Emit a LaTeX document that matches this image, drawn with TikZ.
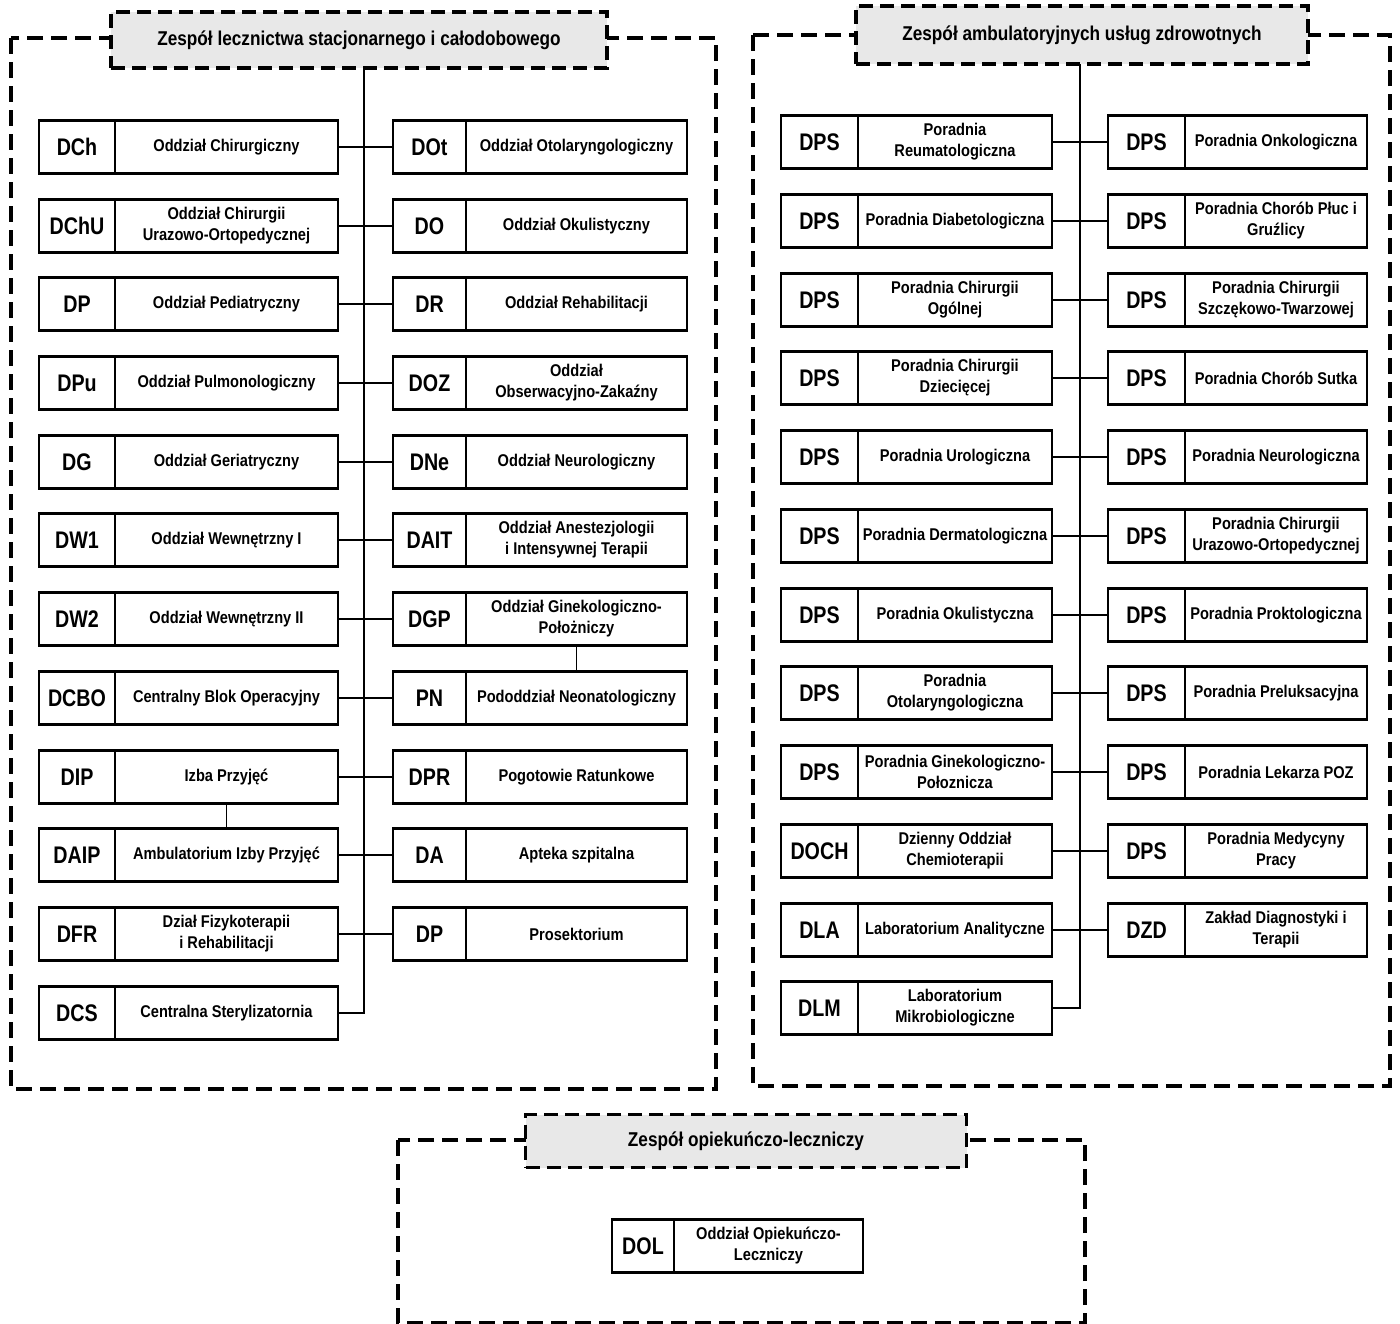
\documentclass[tikz,border=0pt]{standalone}
\usepackage{fontspec}
\setmainfont{Liberation Sans}[FakeStretch=0.86]
\newfontfamily\codefont{Liberation Sans}[FakeStretch=0.82]
\newcommand\deptbox[7]{%
  \node[codebox, minimum width=#4pt] (c#1) at (#2,#3) {#6};
  \node[namebox, minimum width=#5pt] (n#1) at (c#1.east) {#7};}
\begin{document}
\begin{tikzpicture}[x=1pt,y=-1pt,
  codebox/.style={draw, line width=2.2pt, anchor=west, minimum height=53pt, inner sep=0pt, outer sep=0pt,
    font=\codefont\bfseries\fontsize{24}{26}\selectfont},
  namebox/.style={draw, line width=2.2pt, anchor=west, minimum height=53pt, inner sep=0pt, outer sep=0pt,
    align=center, font=\bfseries\fontsize{17}{21}\selectfont},
  group/.style={draw, line width=3.2pt, dash pattern=on 16pt off 8pt},
  titlebox/.style={draw, line width=3.6pt, dash pattern=on 14pt off 7pt, fill=gray!18,
    inner sep=0pt, outer sep=0pt, font=\bfseries\fontsize{20}{22}\selectfont},
  link/.style={line width=1.8pt}
]
\fill[white] (0,0) rectangle (1400,1323);
\useasboundingbox (0,0) rectangle (1400,1323);

% group frames
\draw[group] (11,38) rectangle (716,1089);
\draw[group] (753,35) rectangle (1390,1086);
\draw[group] (398,1140) rectangle (1085,1323);

% titles
\node[titlebox, minimum width=496pt, minimum height=56pt] (t1) at (359,40) {Zespół lecznictwa stacjonarnego i całodobowego};
\node[titlebox, minimum width=452pt, minimum height=58pt] (t2) at (1082,35) {Zespół ambulatoryjnych usług zdrowotnych};
\node[titlebox, minimum width=441pt, minimum height=53pt] (t3) at (746,1141) {Zespół opiekuńczo-leczniczy};

% left group, left column
\deptbox{L1}{39}{147}{76}{223}{DCh}{Oddział Chirurgiczny}
\deptbox{L2}{39}{226}{76}{223}{DChU}{Oddział Chirurgii\\Urazowo-Ortopedycznej}
\deptbox{L3}{39}{304}{76}{223}{DP}{Oddział Pediatryczny}
\deptbox{L4}{39}{383}{76}{223}{DPu}{Oddział Pulmonologiczny}
\deptbox{L5}{39}{462}{76}{223}{DG}{Oddział Geriatryczny}
\deptbox{L6}{39}{540}{76}{223}{DW1}{Oddział Wewnętrzny I}
\deptbox{L7}{39}{619}{76}{223}{DW2}{Oddział Wewnętrzny II}
\deptbox{L8}{39}{698}{76}{223}{DCBO}{Centralny Blok Operacyjny}
\deptbox{L9}{39}{777}{76}{223}{DIP}{Izba Przyjęć}
\deptbox{L10}{39}{855}{76}{223}{DAIP}{Ambulatorium Izby Przyjęć}
\deptbox{L11}{39}{934}{76}{223}{DFR}{Dział Fizykoterapii\\i Rehabilitacji}
\deptbox{L12}{39}{1013}{76}{223}{DCS}{Centralna Sterylizatornia}

% left group, right column
\deptbox{R1}{393}{147}{73}{221}{DOt}{Oddział Otolaryngologiczny}
\deptbox{R2}{393}{226}{73}{221}{DO}{Oddział Okulistyczny}
\deptbox{R3}{393}{304}{73}{221}{DR}{Oddział Rehabilitacji}
\deptbox{R4}{393}{383}{73}{221}{DOZ}{Oddział\\Obserwacyjno-Zakaźny}
\deptbox{R5}{393}{462}{73}{221}{DNe}{Oddział Neurologiczny}
\deptbox{R6}{393}{540}{73}{221}{DAIT}{Oddział Anestezjologii\\i Intensywnej Terapii}
\deptbox{R7}{393}{619}{73}{221}{DGP}{Oddział Ginekologiczno-\\Położniczy}
\deptbox{R8}{393}{698}{73}{221}{PN}{Pododdział Neonatologiczny}
\deptbox{R9}{393}{777}{73}{221}{DPR}{Pogotowie Ratunkowe}
\deptbox{R10}{393}{855}{73}{221}{DA}{Apteka szpitalna}
\deptbox{R11}{393}{934}{73}{221}{DP}{Prosektorium}

% right group, left column
\deptbox{A1}{781}{142}{77}{194}{DPS}{Poradnia\\Reumatologiczna}
\deptbox{A2}{781}{221}{77}{194}{DPS}{Poradnia Diabetologiczna}
\deptbox{A3}{781}{300}{77}{194}{DPS}{Poradnia Chirurgii\\Ogólnej}
\deptbox{A4}{781}{378}{77}{194}{DPS}{Poradnia Chirurgii\\Dziecięcej}
\deptbox{A5}{781}{457}{77}{194}{DPS}{Poradnia Urologiczna}
\deptbox{A6}{781}{536}{77}{194}{DPS}{Poradnia Dermatologiczna}
\deptbox{A7}{781}{615}{77}{194}{DPS}{Poradnia Okulistyczna}
\deptbox{A8}{781}{693}{77}{194}{DPS}{Poradnia\\Otolaryngologiczna}
\deptbox{A9}{781}{772}{77}{194}{DPS}{Poradnia Ginekologiczno-\\Połoznicza}
\deptbox{A10}{781}{851}{77}{194}{DOCH}{Dzienny Oddział\\Chemioterapii}
\deptbox{A11}{781}{930}{77}{194}{DLA}{Laboratorium Analityczne}
\deptbox{A12}{781}{1008}{77}{194}{DLM}{Laboratorium\\Mikrobiologiczne}

% right group, right column
\deptbox{B1}{1108}{142}{77}{182}{DPS}{Poradnia Onkologiczna}
\deptbox{B2}{1108}{221}{77}{182}{DPS}{Poradnia Chorób Płuc i\\Gruźlicy}
\deptbox{B3}{1108}{300}{77}{182}{DPS}{Poradnia Chirurgii\\Szczękowo-Twarzowej}
\deptbox{B4}{1108}{378}{77}{182}{DPS}{Poradnia Chorób Sutka}
\deptbox{B5}{1108}{457}{77}{182}{DPS}{Poradnia Neurologiczna}
\deptbox{B6}{1108}{536}{77}{182}{DPS}{Poradnia Chirurgii\\Urazowo-Ortopedycznej}
\deptbox{B7}{1108}{615}{77}{182}{DPS}{Poradnia Proktologiczna}
\deptbox{B8}{1108}{693}{77}{182}{DPS}{Poradnia Preluksacyjna}
\deptbox{B9}{1108}{772}{77}{182}{DPS}{Poradnia Lekarza POZ}
\deptbox{B10}{1108}{851}{77}{182}{DPS}{Poradnia Medycyny\\Pracy}
\deptbox{B11}{1108}{930}{77}{182}{DZD}{Zakład Diagnostyki i\\Terapii}

% bottom group
\deptbox{O1}{612}{1246}{62}{189}{DOL}{Oddział Opiekuńczo-\\Leczniczy}

% trunks
\draw[link] ([xshift=5pt]t1.south) |- (nL12.east);
\draw[link] ([xshift=-2pt]t2.south) |- (nA12.east);

% row links
\foreach \i in {1,...,11} {
  \draw[link] (nL\i.east) -- (cR\i.west);
  \draw[link] (nA\i.east) -- (cB\i.west);
}
\draw[link] (nR7.south) -- (nR8.north);
\draw[link] (nL9.south) -- (nL10.north);
\end{tikzpicture}
\end{document}
